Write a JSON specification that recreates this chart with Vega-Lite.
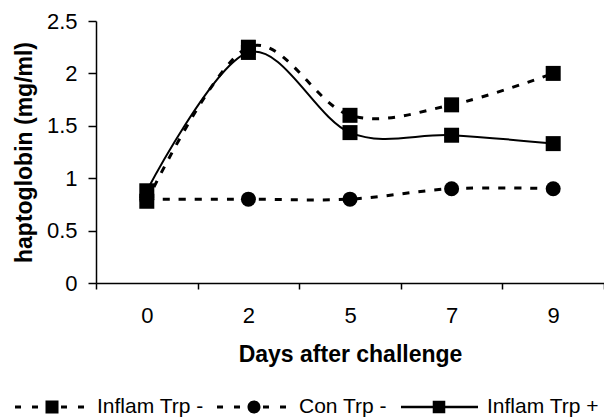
{
  "$schema": "https://vega.github.io/schema/vega-lite/v6.json",
  "width": 508,
  "height": 262,
  "autosize": {"type": "none"},
  "padding": {"left": 96, "top": 21, "right": 0, "bottom": 136},
  "background": "white",
  "config": {
    "view": {"stroke": null},
    "font": "Liberation Sans",
    "axis": {"grid": false, "domainColor": "black", "tickColor": "black", "domainWidth": 1.5, "tickWidth": 1.5, "labelColor": "black", "titleColor": "black", "labelFont": "Liberation Sans", "titleFont": "Liberation Sans"},
    "legend": {"labelFont": "Liberation Sans"}
  },
  "data": {
    "values": [
      {"day": "0", "series": "Inflam Trp -", "value": 0.78},
      {"day": "2", "series": "Inflam Trp -", "value": 2.25},
      {"day": "5", "series": "Inflam Trp -", "value": 1.6},
      {"day": "7", "series": "Inflam Trp -", "value": 1.7},
      {"day": "9", "series": "Inflam Trp -", "value": 2.0},
      {"day": "0", "series": "Con Trp -", "value": 0.8},
      {"day": "2", "series": "Con Trp -", "value": 0.8},
      {"day": "5", "series": "Con Trp -", "value": 0.8},
      {"day": "7", "series": "Con Trp -", "value": 0.9},
      {"day": "9", "series": "Con Trp -", "value": 0.9},
      {"day": "0", "series": "Inflam Trp +", "value": 0.88},
      {"day": "2", "series": "Inflam Trp +", "value": 2.2},
      {"day": "5", "series": "Inflam Trp +", "value": 1.435},
      {"day": "7", "series": "Inflam Trp +", "value": 1.41},
      {"day": "9", "series": "Inflam Trp +", "value": 1.33}
    ]
  },
  "encoding": {
    "x": {
      "field": "day", "type": "ordinal", "sort": ["0", "2", "5", "7", "9"],
      "scale": {"type": "band", "paddingInner": 0, "paddingOuter": 0},
      "axis": {"title": "Days after challenge", "labelAngle": 0, "labelFontSize": 22, "labelPadding": 16, "tickSize": 6, "tickBand": "extent", "titleFontSize": 23, "titleFontWeight": "bold", "titlePadding": 17}
    },
    "y": {
      "field": "value", "type": "quantitative",
      "scale": {"domain": [0, 2.5], "nice": false},
      "axis": {"title": "haptoglobin (mg/ml)", "values": [0, 0.5, 1, 1.5, 2, 2.5], "format": ".1~f", "labelFontSize": 22, "labelPadding": 11, "tickSize": 8, "titleFontSize": 23, "titleFontWeight": "bold", "titlePadding": 10}
    }
  },
  "layer": [
    {
      "transform": [{"filter": "datum.series !== 'Inflam Trp +'"}],
      "mark": {"type": "line", "interpolate": "cardinal", "tension": 0, "color": "black", "strokeWidth": 3, "strokeDash": [7, 9]},
      "encoding": {"detail": {"field": "series", "type": "nominal"}}
    },
    {
      "transform": [{"filter": "datum.series === 'Inflam Trp +'"}],
      "mark": {"type": "line", "interpolate": "cardinal", "tension": 0, "color": "black", "strokeWidth": 2},
      "encoding": {"detail": {"field": "series", "type": "nominal"}}
    },
    {
      "transform": [{"filter": "datum.series !== 'Con Trp -'"}],
      "mark": {"type": "point", "shape": "square", "filled": true, "color": "black", "size": 225, "opacity": 1}
    },
    {
      "transform": [{"filter": "datum.series === 'Con Trp -'"}],
      "mark": {"type": "point", "shape": "circle", "filled": true, "color": "black", "size": 225, "opacity": 1}
    },
    {
      "mark": {"type": "point", "filled": true, "color": "black", "size": 225, "opacity": 0},
      "encoding": {
        "shape": {
          "field": "series", "type": "nominal",
          "scale": {
            "domain": ["Inflam Trp -", "Con Trp -", "Inflam Trp +"],
            "range": [
              "M-1.03,-0.045H-0.848V0.045H-1.03Z M-0.515,-0.045H-0.333V0.045H-0.515Z M-0.106,-0.197H0.288V0.197H-0.106Z M0.364,-0.045H0.545V0.045H0.364Z M0.879,-0.045H1.061V0.045H0.879Z",
              "M-1.03,-0.045H-0.848V0.045H-1.03Z M-0.515,-0.045H-0.333V0.045H-0.515Z M0.288,0C0.288,0.109 0.2,0.197 0.091,0.197C-0.018,0.197 -0.106,0.109 -0.106,0C-0.106,-0.109 -0.018,-0.197 0.091,-0.197C0.2,-0.197 0.288,-0.109 0.288,0Z M0.364,-0.045H0.545V0.045H0.364Z M0.879,-0.045H1.061V0.045H0.879Z",
              "M-1.152,-0.038H1.182V0.038H-1.152Z M-0.19,-0.19H0.19V0.19H-0.19Z"
            ]
          },
          "legend": {
            "title": null, "orient": "none", "direction": "horizontal",
            "legendX": -80, "legendY": 353,
            "symbolSize": 4356, "labelFontSize": 21, "labelOffset": 15, "columnPadding": 13, "padding": 0,
            "labelColor": "black", "symbolOpacity": 1,
            "symbolFillColor": "black", "symbolStrokeWidth": 0
          }
        }
      }
    }
  ]
}
